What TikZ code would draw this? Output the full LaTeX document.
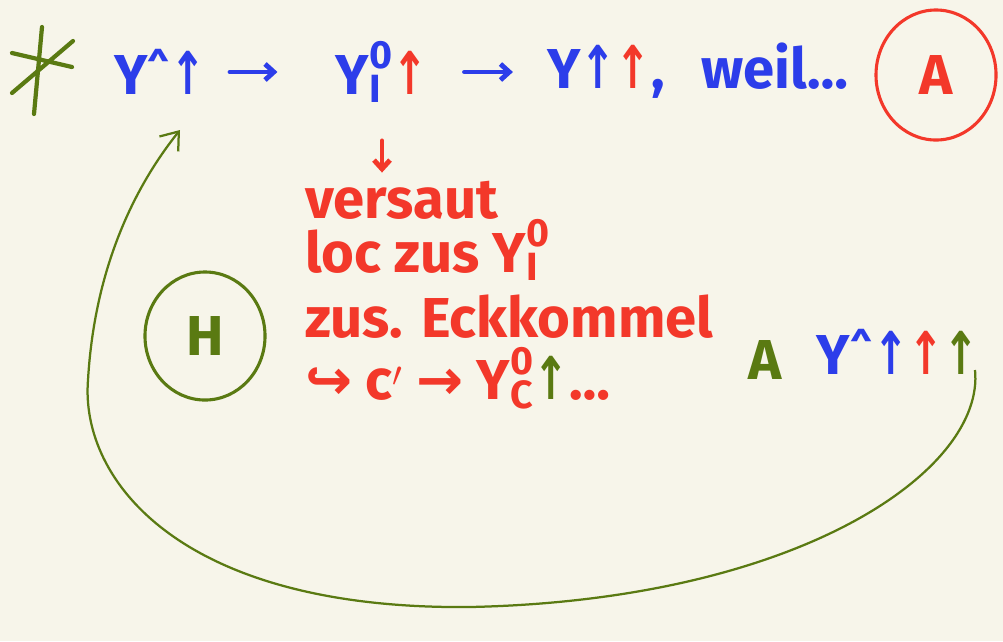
\documentclass[tikz,border=0pt]{standalone}
\usepackage{amsmath}
\usepackage{graphicx}
\usepackage{fontspec}
\setmainfont{Fira Sans}
\newfontfamily\arrfont{DejaVu Sans}
\usetikzlibrary{arrows.meta,positioning,calc,shapes.geometric}
\definecolor{NotePaper}{HTML}{F7F5EA}
\definecolor{NoteBlue}{HTML}{2C3DEA}
\definecolor{NoteRed}{HTML}{F3382A}
\definecolor{NoteGreen}{HTML}{5A7A12}
\newcommand\upa[1]{\textcolor{#1}{\scalebox{.75}[1.05]{\arrfont\bfseries ↑}}}
\newcommand\ysc[2]{$\text{Y}^{\text{#1}}_{\text{#2}}$}
\newcommand\yhat{Y\textsuperscript{\^{}}}

\begin{document}
\begin{tikzpicture}[x=0.025cm,y=-0.025cm]
\tikzset{w/.style={font=\fontsize{40}{46}\selectfont\bfseries,inner sep=0pt},r/.style={w,NoteRed,anchor=west},ring/.style={ellipse,draw,line width=2.2pt},a/.style={-{Straight Barb[length=2.2mm,width=4mm]},line width=3.5pt,line cap=round}}
\fill[NotePaper] (0,0) rectangle (1003,641);
\useasboundingbox (0,0) rectangle (1003,641);
% star
\coordinate (st) at (42,70);
\draw[NoteGreen,line width=3pt,line cap=round] ($(st)+(0,-43)$)--($(st)+(-8,44)$) ($(st)+(-30,23)$)--($(st)+(31,-29)$) ($(st)+(-30,-17)$)--($(st)+(30,-3)$);
% top line
\node[w,NoteBlue] (ya) at (160,72) {\yhat\upa{NoteBlue}};
\node[w,NoteBlue] (yi) at (382,72) {\ysc{0}{I}\upa{NoteRed}};
\node[w,NoteBlue] (yb) at (606,72) {Y\upa{NoteBlue}\upa{NoteRed},};
\node[w,NoteBlue] (weil) at (775,66) {weil\dots};
\node[ring,NoteRed,minimum width=3cm,minimum height=3.25cm,w] (A) at (936,75) {A};
\draw[a,NoteBlue,shorten <=0.6cm,shorten >=1.45cm] (ya)--(yi);
\draw[a,NoteBlue,shorten <=0.9cm,shorten >=0.85cm] (yi)--(yb);
% red note
\node[r] (l1) at (305,200) {versaut};
\node[r] (l2) at (305,250) {loc zus \ysc{0}{I}};
\node[r] (l3) at (305,317) {zus. Eckkommel};
\node[r] (l4) at (305,378) {{\arrfont ↪} c$'$ {\arrfont →} \ysc{0}{C}\upa{NoteGreen}\dots};
\draw[a,NoteRed,shorten <=0.95cm,shorten >=0.2cm] (yi.south)--(l1.north -| yi);
% green part
\node[ring,NoteGreen,minimum width=3cm,minimum height=3.2cm,w] (H) at (205,336) {H};
\node[w,NoteGreen] (gA) at (765,360) {A};
\node[w,NoteBlue] (yf) at (898,352) {\yhat\upa{NoteBlue}\upa{NoteRed}\upa{NoteGreen}};
\coordinate (lp) at (975,370);
\coordinate (le) at (180,130);
\draw[NoteGreen,line width=1.6pt,-{Straight Barb[length=4mm,width=6mm]}] (lp) .. controls (985,470) and (800,600) .. (470,607) .. controls (180,610) and (80,480) .. (88,380) .. controls (95,260) and (140,180) .. (le);
\end{tikzpicture}
\end{document}
